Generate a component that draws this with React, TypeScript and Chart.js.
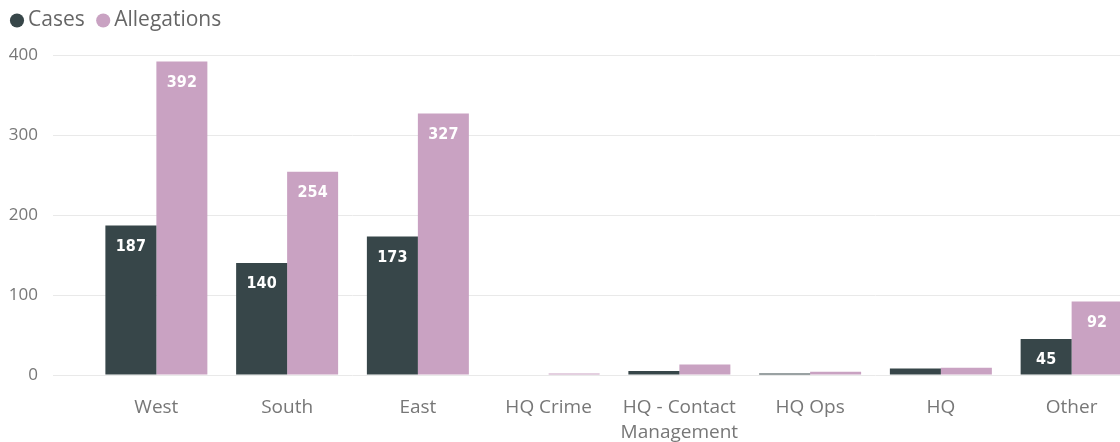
import React, { useEffect, useRef } from "react";
import { Chart, registerables } from "chart.js";

Chart.register(...registerables);

const categories: (string | string[])[] = [
  "West",
  "South",
  "East",
  "HQ Crime",
  ["HQ - Contact", "Management"],
  "HQ Ops",
  "HQ",
  "Other",
];
const casesValues = [187, 140, 173, 0, 5, 2, 8, 45];
const allegationsValues = [392, 254, 327, 2, 13, 4, 9, 92];
const yTicks = [0, 100, 200, 300, 400];

const CASES_COLOR = "#374649";
const ALLEG_COLOR = "#C9A2C2";

const legendHeight = {
  id: "legendHeight",
  beforeInit(chart: any) {
    const orig = chart.legend.fit;
    chart.legend.fit = function () {
      orig.bind(chart.legend)();
      this.height = 63;
    };
  },
};

const barLabels = {
  id: "barLabels",
  afterDatasetsDraw(chart: any) {
    const ctx = chart.ctx;
    ctx.save();
    ctx.font = 'bold 16px "DejaVu Sans Condensed", "DejaVu Sans", sans-serif';
    ctx.fillStyle = "#ffffff";
    ctx.textAlign = "center";
    ctx.textBaseline = "middle";
    chart.data.datasets.forEach((ds: any, di: number) => {
      const meta = chart.getDatasetMeta(di);
      meta.data.forEach((bar: any, i: number) => {
        const v = ds.data[i];
        if (v >= 30) {
          ctx.fillText(String(v), bar.x, bar.y + 21);
        }
      });
    });
    ctx.restore();
  },
};

export default function App() {
  const ref = useRef<HTMLCanvasElement>(null);
  useEffect(() => {
    document.body.style.overflow = "hidden";
    const chart = new Chart(ref.current!, {
      type: "bar",
      data: {
        labels: categories,
        datasets: [
          {
            label: "Cases",
            data: casesValues,
            backgroundColor: CASES_COLOR,
            categoryPercentage: 0.78,
            barPercentage: 1.0,
          },
          {
            label: "Allegations",
            data: allegationsValues,
            backgroundColor: ALLEG_COLOR,
            categoryPercentage: 0.78,
            barPercentage: 1.0,
          },
        ],
      },
      options: {
        responsive: false,
        animation: false,
        layout: { padding: { left: -1.5, right: 0, top: -8, bottom: 0 } },
        plugins: {
          tooltip: { enabled: false },
          legend: {
            display: true,
            position: "top",
            align: "start",
            labels: {
              usePointStyle: true,
              pointStyle: "circle",
              boxWidth: 1,
              boxHeight: 10,
              padding: 18,
              color: "#666666",
              font: { family: '"Open Sans", sans-serif', size: 21 },
            },
          },
        },
        scales: {
          x: {
            grid: { display: false, drawTicks: false },
            border: { display: false },
            ticks: {
              padding: 20,
              color: "#777777",
              autoSkip: false,
              maxRotation: 0,
              font: { family: '"Open Sans", sans-serif', size: 19, lineHeight: 1.316 },
            },
            afterFit(scale: any) {
              scale.height = 67;
            },
          },
          y: {
            min: 0,
            max: 400,
            afterBuildTicks(scale: any) {
              scale.ticks = yTicks.map((v) => ({ value: v }));
            },
            grid: {
              color: "#e9e9e9",
              lineWidth: 1,
              tickLength: 38,
              drawTicks: true,
            },
            border: { display: false },
            ticks: {
              padding: 15,
              color: "#777777",
              font: { family: '"Open Sans", sans-serif', size: 17 },
            },
            afterFit(scale: any) {
              scale.width = 92.5;
            },
          },
        },
      },
      plugins: [legendHeight, barLabels],
    });
    return () => chart.destroy();
  }, []);
  return (
    <div
      style={{
        position: "absolute",
        left: 0,
        top: 0,
        width: 1120,
        height: 442,
        overflow: "hidden",
        background: "#ffffff",
      }}
    >
      <canvas ref={ref} width={1137} height={442} style={{ display: "block" }} />
    </div>
  );
}
